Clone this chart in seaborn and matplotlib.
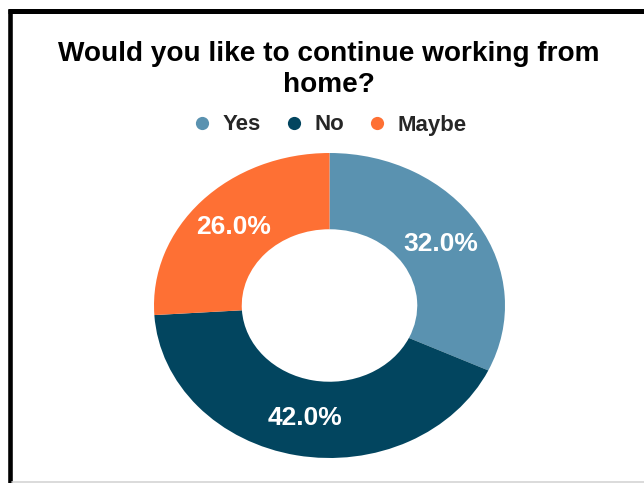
import matplotlib
matplotlib.use("Agg")
import matplotlib.pyplot as plt
from matplotlib.lines import Line2D
import seaborn as sns

# Survey answers
answers = ["Yes", "No", "Maybe"]
shares = [32.0, 42.0, 26.0]
answer_colors = ["#5a92b0", "#02455f", "#fe7034"]
title = "Would you like to continue working from\nhome?"

sns.set_theme(style="white")
plt.rcParams["font.family"] = ["Liberation Sans", "DejaVu Sans"]

palette = sns.color_palette(answer_colors)

W, H = 644, 483
fig = plt.figure(figsize=(W / 100, H / 100), dpi=100)
fig.patch.set_facecolor("white")

# Donut axes (stretched horizontally, no equal aspect)
cx, cy, rx, ry = 329.5, 305.5, 175.5, 152.5
ax = fig.add_axes([(cx - rx) / W, 1 - (cy + ry) / H, 2 * rx / W, 2 * ry / H])
wedges, texts, autotexts = ax.pie(
    shares,
    colors=palette,
    startangle=90,
    counterclock=False,
    autopct="%.1f%%",
    pctdistance=0.75,
    radius=1.0,
    wedgeprops=dict(width=0.5, linewidth=0),
    textprops=dict(color="white", fontsize=19, fontweight="bold"),
)
ax.set_aspect("auto")
ax.set_xlim(-1, 1)
ax.set_ylim(-1, 1)
ax.axis("off")

# Title
fig.text(329 / W, 1 - 41 / H, title, ha="center", va="top",
         fontsize=20.2, fontweight="bold", color="black", linespacing=1.24)

# Legend
handles = [Line2D([0], [0], marker="o", linestyle="none", markersize=9.5,
                  markerfacecolor=c, markeredgewidth=0) for c in palette]
fig.legend(handles, answers, loc="center", bbox_to_anchor=(329 / W, 1 - 125 / H),
           ncol=3, frameon=False, handletextpad=0.45,
           columnspacing=1.0, handlelength=0.95,
           prop=dict(size=16, weight="bold"))

# Page frame
fig.add_artist(Line2D([8 / W, 1], [1 - 10.7 / H, 1 - 10.7 / H], color="black",
                      linewidth=3.6, transform=fig.transFigure,
                      solid_capstyle="butt"))
fig.add_artist(Line2D([10.2 / W, 10.2 / W], [1 - 8.5 / H, 0], color="black",
                      linewidth=3.3, transform=fig.transFigure,
                      solid_capstyle="butt"))
fig.add_artist(Line2D([12 / W, 1], [1 - 481.5 / H, 1 - 481.5 / H], color="#d4d4d4",
                      linewidth=1.2, transform=fig.transFigure))

fig.savefig("out.png", dpi=100, facecolor="white")
